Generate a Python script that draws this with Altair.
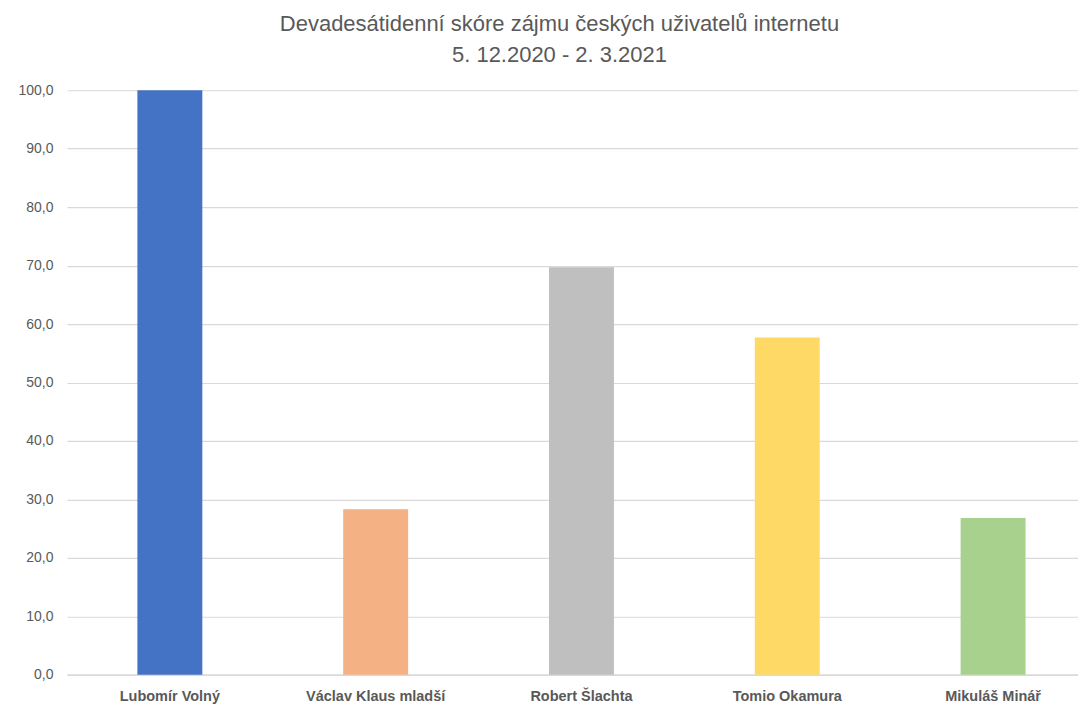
import altair as alt
import pandas as pd

names = ["Lubomír Volný", "Václav Klaus mladší", "Robert Šlachta", "Tomio Okamura", "Mikuláš Minář"]
values = [100.0, 28.3, 69.7, 57.7, 26.8]
colors = ["#4472C4", "#F4B183", "#BFBFBF", "#FFD966", "#A9D18E"]
y_ticks = [0, 10, 20, 30, 40, 50, 60, 70, 80, 90, 100]

df = pd.DataFrame({"name": names, "value": values})

chart = alt.Chart(df).mark_bar(size=65).encode(
    x=alt.X("name:N", sort=names, title=None,
            scale=alt.Scale(range=[0, 1030], paddingInner=0, paddingOuter=0),
            axis=alt.Axis(labelAngle=0, labelFontWeight="bold", labelFontSize=14.5,
                          labelColor="#595959", labelFont="Liberation Sans",
                          labelPadding=15, ticks=False, domainColor="#d9d9d9",
                          domainWidth=1.5)),
    y=alt.Y("value:Q", title=None, scale=alt.Scale(domain=[0, 100], nice=False),
            axis=alt.Axis(values=y_ticks, labelExpr="replace(format(datum.value, '.1f'), '.', ',')",
                          labelFontSize=14, labelColor="#595959", labelFont="Liberation Sans",
                          labelPadding=14, ticks=False, domain=False,
                          gridColor="#d9d9d9", gridWidth=1.2)),
    color=alt.Color("name:N", sort=names, scale=alt.Scale(domain=names, range=colors), legend=None),
).properties(
    width=1012,
    height=585,
    title=alt.TitleParams(
        text=["Devadesátidenní skóre zájmu českých uživatelů internetu", "5. 12.2020 - 2. 3.2021"],
        fontSize=22, font="Liberation Sans", fontWeight="normal", color="#595959",
        lineHeight=31, anchor="middle", offset=16, dx=-13,
    ),
    autosize=alt.AutoSizeParams(type="none"),
    padding={"left": 59, "top": 82, "right": 0, "bottom": 30},
).configure_view(stroke=None)

chart.save("out.html", embed_options={"renderer": "svg", "actions": False})
